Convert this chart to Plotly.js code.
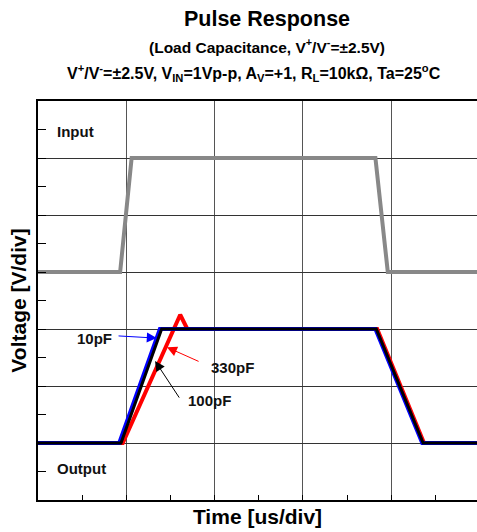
<!DOCTYPE html>
<html>
<head>
<meta charset="utf-8">
<script src="https://cdn.plot.ly/plotly-3.0.1.min.js"></script>
<style>html,body{margin:0;padding:0;background:#fff;}#chart{width:477px;height:532px;}</style>
</head>
<body>
<div id="chart"></div>
<script>
// Time in divisions, voltage in divisions
const inputTime = [0, 0.93, 1.06, 3.82, 3.96, 4.97];
const inputVolt = [4, 4, 6, 6, 4, 4];

const out10pFTime = [0, 0.92, 1.38, 3.82, 4.35, 4.97];
const out10pFVolt = [1, 1, 3, 3, 1, 1];

const out100pFTime = [0, 0.94, 1.40, 3.83, 4.36, 4.97];
const out100pFVolt = [1, 1, 3, 3, 1, 1];

const out330pFTime = [0, 0.96, 1.61, 1.69, 3.84, 4.37, 4.97];
const out330pFVolt = [1, 1, 3.25, 3, 3, 1, 1];

const FONT = 'Liberation Sans, Arial, sans-serif';

const traces = [
  {x: inputTime, y: inputVolt, mode: 'lines', name: 'Input', line: {color: '#888888', width: 4}},
  {x: out330pFTime, y: out330pFVolt, mode: 'lines', name: '330pF', line: {color: '#ff0000', width: 4}},
  {x: out10pFTime, y: out10pFVolt, mode: 'lines', name: '10pF', line: {color: '#0000ff', width: 4}},
  {x: out100pFTime, y: out100pFVolt, mode: 'lines', name: '100pF', line: {color: '#000000', width: 3}}
];

const bold = (s) => '<b>' + s + '</b>';

const annotations = [
  {xref: 'paper', yref: 'paper', x: (267 - 38) / 439, y: (500 - 46) / 399, xanchor: 'center', yanchor: 'middle', showarrow: false,
   text: bold('(Load Capacitance, V<sup>+</sup>/V<sup>-</sup>=±2.5V)'), font: {family: FONT, size: 15.5, color: '#000'}},
  {xref: 'paper', yref: 'paper', x: (254 - 38) / 439, y: (500 - 73) / 399, xanchor: 'center', yanchor: 'middle', showarrow: false,
   text: bold('V<sup>+</sup>/V<sup>-</sup>=±2.5V, V<sub>IN</sub>=1Vp-p, A<sub>V</sub>=+1, R<sub>L</sub>=10kΩ, Ta=25<sup>o</sup>C'), font: {family: FONT, size: 16, color: '#000'}},
  {x: 0.42, y: 6.47, showarrow: false, text: bold('Input'), font: {family: FONT, size: 15, color: '#111'}},
  {x: 0.49, y: 0.56, showarrow: false, text: bold('Output'), font: {family: FONT, size: 15, color: '#111'}},
  {x: 0.645, y: 2.84, showarrow: false, text: bold('10pF'), font: {family: FONT, size: 15, color: '#111'}},
  {x: 2.20, y: 2.33, showarrow: false, text: bold('330pF'), font: {family: FONT, size: 15, color: '#111'}},
  {x: 1.94, y: 1.74, showarrow: false, text: bold('100pF'), font: {family: FONT, size: 15, color: '#111'}},
  {x: 1.345, y: 2.84, ax: 0.895, ay: 2.88, axref: 'x', ayref: 'y', text: '', showarrow: true,
   arrowhead: 2, arrowsize: 2, arrowwidth: 1, arrowcolor: '#0000ff', standoff: 0},
  {x: 1.46, y: 2.68, ax: 1.835, ay: 2.42, axref: 'x', ayref: 'y', text: '', showarrow: true,
   arrowhead: 2, arrowsize: 2, arrowwidth: 1, arrowcolor: '#ff0000', standoff: 0},
  {x: 1.325, y: 2.44, ax: 1.61, ay: 1.77, axref: 'x', ayref: 'y', text: '', showarrow: true,
   arrowhead: 2, arrowsize: 2, arrowwidth: 1, arrowcolor: '#000000', standoff: 0}
];

const layout = {
  width: 477, height: 532,
  margin: {l: 38, r: 0, t: 101, b: 32},
  paper_bgcolor: '#fff', plot_bgcolor: '#fff',
  showlegend: false,
  title: {text: bold('Pulse Response'), font: {family: FONT, size: 21.5, color: '#000'},
          x: (267 - 38) / 439, xref: 'paper', xanchor: 'center', y: 1 - 18 / 532, yanchor: 'middle'},
  xaxis: {
    range: [0, 4.97], dtick: 1, tick0: 0, showticklabels: false,
    showgrid: true, gridcolor: '#555', gridwidth: 1, zeroline: false,
    showline: true, linecolor: '#000', linewidth: 2, mirror: true,
    ticks: 'inside', ticklen: 5, tickcolor: '#000', tickwidth: 1,
    minor: {ticks: 'inside', ticklen: 5, dtick: 0.5, tickcolor: '#000', showgrid: false},
    automargin: true,
    title: {text: bold('Time [us/div]'), font: {family: FONT, size: 21, color: '#000'}, standoff: 8},
    fixedrange: true
  },
  yaxis: {
    range: [0, 7], dtick: 1, tick0: 0, showticklabels: false,
    showgrid: true, gridcolor: '#333', gridwidth: 1, zeroline: false,
    showline: true, linecolor: '#000', linewidth: 2,
    ticks: 'inside', ticklen: 8, tickcolor: '#000', tickwidth: 1,
    minor: {ticks: 'inside', ticklen: 8, dtick: 0.5, tickcolor: '#000', showgrid: false},
    automargin: true,
    title: {text: bold('Voltage [V/div]'), font: {family: FONT, size: 21, color: '#000'}, standoff: 4},
    fixedrange: true
  },
  annotations: annotations
};

Plotly.newPlot('chart', traces, layout, {displayModeBar: false, staticPlot: true});
</script>
</body>
</html>
